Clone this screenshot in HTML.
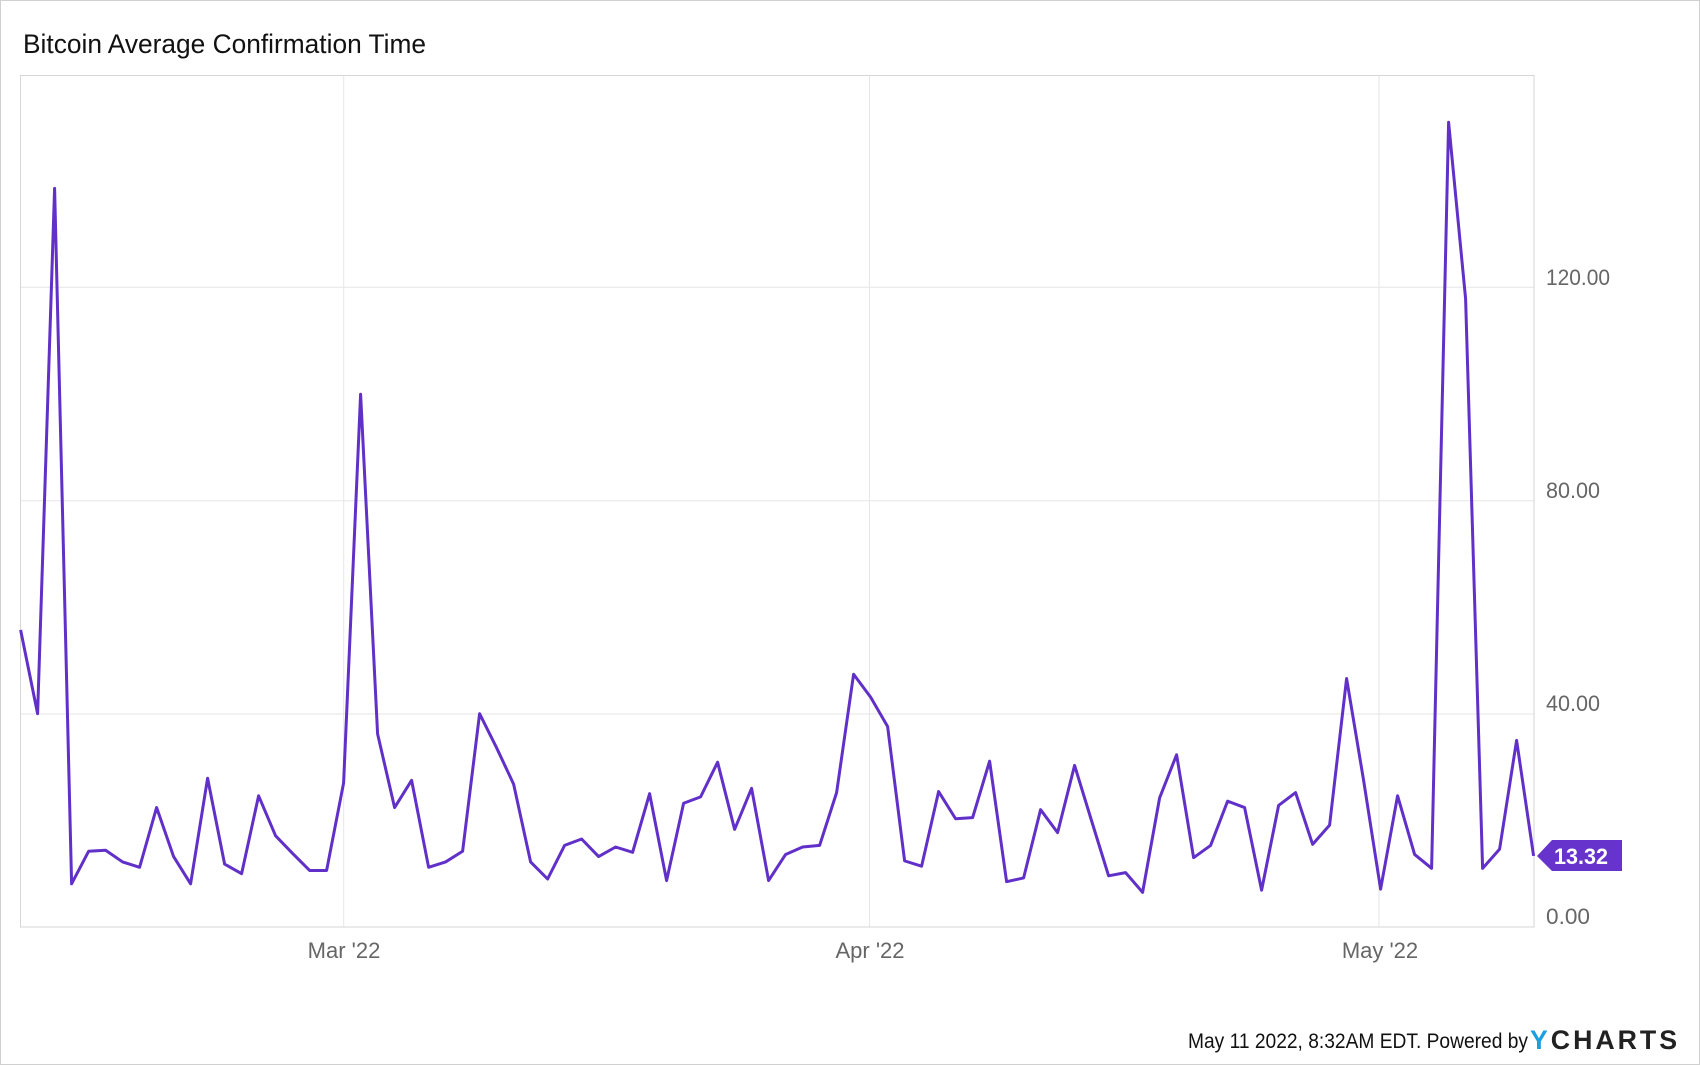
<!DOCTYPE html>
<html><head><meta charset="utf-8"><style>
html,body{margin:0;padding:0;background:#fff;}
svg{display:block;font-family:"Liberation Sans",sans-serif;}
</style></head><body>
<svg width="1700" height="1065" viewBox="0 0 1700 1065">
<rect x="0.5" y="0.5" width="1699" height="1064" fill="#fff" stroke="#d0d0d0"/>
<text x="23" y="53" font-size="27" fill="#111" textLength="403" lengthAdjust="spacingAndGlyphs">Bitcoin Average Confirmation Time</text>
<g stroke="#e6e6e6" stroke-width="1">
<line x1="21" y1="714" x2="1534" y2="714"/>
<line x1="21" y1="500.7" x2="1534" y2="500.7"/>
<line x1="21" y1="287.3" x2="1534" y2="287.3"/>
<line x1="343.7" y1="76" x2="343.7" y2="927"/>
<line x1="869.5" y1="76" x2="869.5" y2="927"/>
<line x1="1379" y1="76" x2="1379" y2="927"/>
</g>
<rect x="20.5" y="75.5" width="1513.5" height="851.5" fill="none" stroke="#d6d6d6"/>
<g font-size="22" fill="#666">
<text x="1546" y="285" textLength="64" lengthAdjust="spacingAndGlyphs">120.00</text>
<text x="1546" y="498" textLength="54" lengthAdjust="spacingAndGlyphs">80.00</text>
<text x="1546" y="711" textLength="54" lengthAdjust="spacingAndGlyphs">40.00</text>
<text x="1546" y="924" textLength="44" lengthAdjust="spacingAndGlyphs">0.00</text>
<text x="344" y="958" text-anchor="middle">Mar '22</text>
<text x="870" y="958" text-anchor="middle">Apr '22</text>
<text x="1380" y="958" text-anchor="middle">May '22</text>
</g>
<g transform="translate(20.6,927) scale(17.0,-5.333)">
<polyline fill="none" stroke="#6030c8" stroke-width="3" vector-effect="non-scaling-stroke" stroke-linejoin="round" points="0,55.7 1,40 2,138.5 3,8.1 4,14.2 5,14.4 6,12.2 7,11.2 8,22.4 9,13.2 10,8.1 11,27.9 12,11.8 13,10 14,24.6 15,17.1 16,13.8 17,10.6 18,10.6 19,27 20,99.9 21,36.2 22,22.4 23,27.5 24,11.2 25,12.2 26,14.2 27,40 28,33.6 29,26.8 30,12.2 31,9 32,15.3 33,16.5 34,13.2 35,15 36,14 37,25 38,8.7 39,23.2 40,24.4 41,30.9 42,18.3 43,26 44,8.7 45,13.6 46,15 47,15.3 48,25.2 49,47.4 50,43.1 51,37.6 52,12.4 53,11.4 54,25.4 55,20.3 56,20.5 57,31.1 58,8.5 59,9.2 60,22 61,17.7 62,30.3 63,19.9 64,9.6 65,10.2 66,6.5 67,24.2 68,32.3 69,13 70,15.3 71,23.6 72,22.4 73,6.9 74,22.8 75,25.2 76,15.5 77,19.1 78,46.6 79,27.5 80,7.1 81,24.6 82,13.6 83,11 84,150.9 85,117.8 86,11 87,14.6 88,35 89,13.32"/>
</g>
<polygon points="1537,856 1552,840 1622,840 1622,871 1552,871" fill="#6633cc"/>
<text x="1554" y="864" font-size="22" font-weight="bold" fill="#fff" textLength="54" lengthAdjust="spacingAndGlyphs">13.32</text>
<text x="1188" y="1048" font-size="21" fill="#111" textLength="340" lengthAdjust="spacingAndGlyphs">May 11 2022, 8:32AM EDT. Powered by</text>
<text x="1530" y="1049" font-size="27" font-weight="bold" fill="#222" letter-spacing="3" textLength="150" lengthAdjust="spacingAndGlyphs"><tspan fill="#1a9fe0">Y</tspan>CHARTS</text>
</svg>
</body></html>
